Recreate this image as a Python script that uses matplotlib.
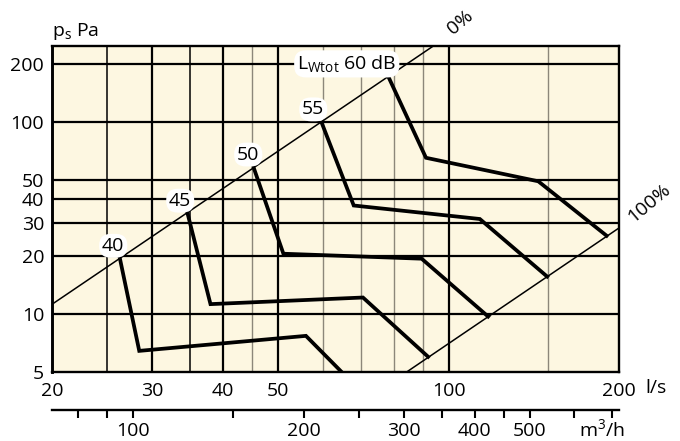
import matplotlib.pyplot as plt
from matplotlib.ticker import NullLocator, NullFormatter, FixedLocator, FixedFormatter

plt.rcParams['font.family'] = ['Open Sans', 'DejaVu Sans']

# Luftmenge l/s und Druck Pa
q_ticks = [20, 30, 40, 50, 100, 200]
p_ticks = [5, 10, 20, 30, 40, 50, 100, 200]
grid_q_thick = [30, 40, 50, 100]
grid_q_mid = [25, 35]
grid_q_thin = [45, 60, 70, 80, 90, 150]
grid_p = [10, 20, 30, 40, 50, 100, 200]

# m3/h Skala
m3h_ticks = [80, 90, 100, 150, 200, 250, 300, 350, 400, 450, 500, 600, 700]
m3h_labels = ['', '', '100', '', '200', '', '300', '', '400', '', '500', '', '']

# Drosselkennlinien 0% / 100%
q_0pct = [19.0, 96.0]
p_0pct = [10.2, 260.0]
q_100pct = [80.0, 205.0]
p_100pct = [4.5, 29.6]

# Schallleistungskurven
q_40 = [26.3, 28.45, 56.0, 72.0]
p_40 = [19.5, 6.44, 7.71, 3.64]
q_45 = [34.6, 38.0, 70.6, 92.0]
p_45 = [33.7, 11.28, 12.21, 6.0]
q_50 = [45.3, 51.1, 89.6, 117.4]
p_50 = [57.8, 20.64, 19.45, 9.72]
q_55 = [59.7, 68.0, 113.5, 149.2]
p_55 = [99.3, 36.8, 31.3, 15.7]
q_60 = [78.4, 91.2, 143.9, 190.0]
p_60 = [170.6, 65.2, 49.2, 25.6]

lab_text = ['40', '45', '50', '55', r'L$_\mathregular{Wtot}$ 60 dB']
lab_q = [25.6, 33.6, 44.3, 57.7, 66.1]
lab_p = [22.7, 39.0, 67.8, 116.5, 201.0]

fs = 14

fig = plt.figure(figsize=(6.8, 4.41), dpi=100)
ax = fig.add_axes([0.0772, 0.1565, 0.8335, 0.7399])
ax.set_facecolor('#fdf7e1')
ax.set_xscale('log')
ax.set_yscale('log')
ax.set_xlim(20, 200)
ax.set_ylim(5, 250)

for q in grid_q_thin:
    ax.axvline(q, color='#8c877a', lw=1.0, zorder=1)
for q in grid_q_mid:
    ax.axvline(q, color='black', lw=1.1, zorder=1)
for q in grid_q_thick:
    ax.axvline(q, color='black', lw=1.6, zorder=1)
for p in grid_p:
    ax.axhline(p, color='black', lw=1.6, zorder=1)

ax.plot(q_0pct, p_0pct, color='black', lw=1.1, zorder=2)
ax.plot(q_100pct, p_100pct, color='black', lw=1.1, zorder=2)

for qq, pp in [(q_40, p_40), (q_45, p_45), (q_50, p_50), (q_55, p_55), (q_60, p_60)]:
    ax.plot(qq, pp, color='black', lw=2.7, solid_joinstyle='miter', zorder=3)

for t, q, p in zip(lab_text, lab_q, lab_p):
    ax.text(q, p, t, fontsize=fs, ha='center', va='center', zorder=4,
            bbox=dict(boxstyle='round,pad=0.15,rounding_size=0.6', fc='white', ec='none'))

ax.text(105, 331, '0%', fontsize=fs, rotation=40, ha='center', va='center', clip_on=False)
ax.text(226, 38, '100%', fontsize=fs, rotation=40, ha='center', va='center', clip_on=False)

ax.xaxis.set_major_locator(FixedLocator(q_ticks))
ax.xaxis.set_major_formatter(FixedFormatter([str(v) for v in q_ticks]))
ax.yaxis.set_major_locator(FixedLocator(p_ticks))
ax.yaxis.set_major_formatter(FixedFormatter([str(v) for v in p_ticks]))
for a in (ax.xaxis, ax.yaxis):
    a.set_minor_locator(NullLocator())
    a.set_minor_formatter(NullFormatter())
ax.tick_params(axis='both', length=0, labelsize=fs)
ax.tick_params(axis='x', pad=7)
ax.tick_params(axis='y', pad=6)
for s in ax.spines.values():
    s.set_linewidth(1.7)
ax.spines['left'].set_linewidth(2.1)

fig.text(52 / 680, 1 - 31 / 441, r'p$_\mathregular{s}$ Pa', fontsize=fs, ha='left', va='center')
fig.text(645 / 680, 1 - 388 / 441, 'l/s', fontsize=fs, ha='left', va='center')

# zweite Skala in m3/h
ax2 = fig.add_axes([0.0772, 1 - 409.5 / 441, 0.8335, 0.001])
ax2.set_xscale('log')
ax2.set_xlim(72, 720)
ax2.patch.set_visible(False)
for s in ['top', 'left', 'right']:
    ax2.spines[s].set_visible(False)
ax2.spines['bottom'].set_linewidth(1.7)
ax2.set_yticks([])
ax2.xaxis.set_major_locator(FixedLocator(m3h_ticks))
ax2.xaxis.set_major_formatter(FixedFormatter(m3h_labels))
ax2.xaxis.set_minor_locator(NullLocator())
ax2.xaxis.set_minor_formatter(NullFormatter())
ax2.tick_params(axis='x', direction='out', length=6, width=1.5, labelsize=fs, pad=3)
fig.text(602 / 680, 1 - 430 / 441, r'm$^\mathregular{3}$/h', fontsize=fs, ha='center', va='center')

plt.savefig('out.png', dpi=100)
plt.close()
